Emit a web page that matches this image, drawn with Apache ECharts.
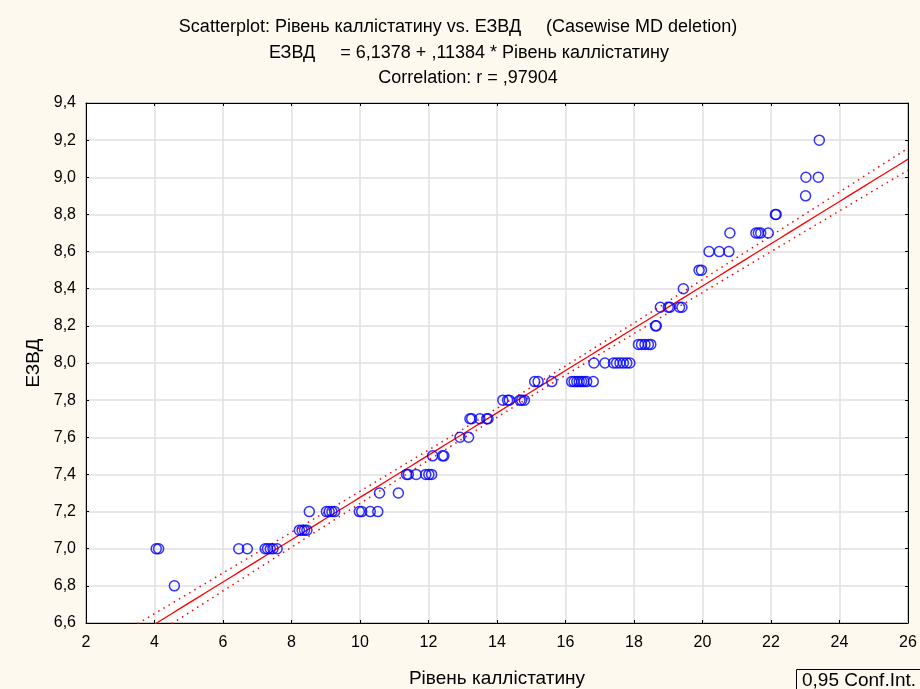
<!DOCTYPE html>
<html><head><meta charset="utf-8">
<script src="https://cdn.jsdelivr.net/npm/echarts@6/dist/echarts.min.js"></script>
<style>html,body{margin:0;padding:0;background:#fdf9ee;overflow:hidden;}#c{width:920px;height:689px;}</style>
</head><body><div id="c"></div>
<script>
// Data: x = Рівень каллістатину, y = ЕЗВД
const xValues = [
  4.58,
  4.05, 4.12, 6.46, 6.71, 7.23, 7.30, 7.38, 7.46, 7.58,
  8.23, 8.31, 8.38, 8.45,
  8.52, 9.02, 9.10, 9.18, 9.26, 9.98, 10.05, 10.30, 10.52,
  10.57, 11.12,
  11.36, 11.41, 11.64, 11.92, 12.01, 12.09,
  12.12, 12.41, 12.45,
  12.92, 13.17,
  13.21, 13.26, 13.50, 13.70, 13.74,
  14.17, 14.31, 14.36, 14.67, 14.72, 14.80,
  15.10, 15.20, 15.60, 16.18, 16.25, 16.33, 16.40, 16.47, 16.54, 16.62, 16.81,
  16.83, 17.15, 17.40, 17.49, 17.59, 17.69, 17.79, 17.88,
  18.13, 18.22, 18.32, 18.42, 18.49,
  18.63, 18.65,
  18.77, 19.00, 19.05, 19.33, 19.40,
  19.44,
  19.90, 19.97,
  20.19, 20.49, 20.77,
  20.80, 21.56, 21.63, 21.70, 21.92,
  22.13, 22.15,
  23.01,
  23.02, 23.38,
  23.41
];
const yValues = [
  6.8,
  7.0, 7.0, 7.0, 7.0, 7.0, 7.0, 7.0, 7.0, 7.0,
  7.1, 7.1, 7.1, 7.1,
  7.2, 7.2, 7.2, 7.2, 7.2, 7.2, 7.2, 7.2, 7.2,
  7.3, 7.3,
  7.4, 7.4, 7.4, 7.4, 7.4, 7.4,
  7.5, 7.5, 7.5,
  7.6, 7.6,
  7.7, 7.7, 7.7, 7.7, 7.7,
  7.8, 7.8, 7.8, 7.8, 7.8, 7.8,
  7.9, 7.9, 7.9, 7.9, 7.9, 7.9, 7.9, 7.9, 7.9, 7.9, 7.9,
  8.0, 8.0, 8.0, 8.0, 8.0, 8.0, 8.0, 8.0,
  8.1, 8.1, 8.1, 8.1, 8.1,
  8.2, 8.2,
  8.3, 8.3, 8.3, 8.3, 8.3,
  8.4,
  8.5, 8.5,
  8.6, 8.6, 8.6,
  8.7, 8.7, 8.7, 8.7, 8.7,
  8.8, 8.8,
  8.9,
  9.0, 9.0,
  9.2
];
// Regression from the chart title
const intercept = 6.1378;
const slope = 0.11384;
const confLevelT = 1.985;
const xTicks = [2,4,6,8,10,12,14,16,18,20,22,24,26];
const yTicks = [6.6,6.8,7.0,7.2,7.4,7.6,7.8,8.0,8.2,8.4,8.6,8.8,9.0,9.2,9.4];

const titleLines = [
  'Scatterplot: Рівень каллістатину vs. ЕЗВД     (Casewise MD deletion)',
  'ЕЗВД     = 6,1378 + ,11384 * Рівень каллістатину',
  'Correlation: r = ,97904'
];

// derived statistics for the 95% confidence band
const n = xValues.length;
const xMean = xValues.reduce((a,b)=>a+b,0)/n;
const sxx = xValues.reduce((a,b)=>a+(b-xMean)*(b-xMean),0);
const sse = xValues.reduce((a,x,i)=>{const r=yValues[i]-(intercept+slope*x);return a+r*r;},0);
const sRes = Math.sqrt(sse/(n-2));
const fitLine = [], upper = [], lower = [];
for (let k = 0; k <= 96; k++) {
  const x = 2 + k*0.25;
  const yh = intercept + slope*x;
  const hw = confLevelT*sRes*Math.sqrt(1/n + (x-xMean)*(x-xMean)/sxx);
  fitLine.push([x, yh]); upper.push([x, yh+hw]); lower.push([x, yh-hw]);
}
const pts = xValues.map((x,i)=>[x,yValues[i]]);

const chart = echarts.init(document.getElementById('c'), null, {renderer:'canvas'});
const fontF = '"Liberation Sans", Arial, sans-serif';
const tFont = '18px "Liberation Sans", Arial, sans-serif';
const txt = (x, y, text, font, align) => ({type: 'text', x: x, y: y,
  style: {text: text, font: font, fill: '#000', textAlign: align, align: align, verticalAlign: 'middle', textVerticalAlign: 'middle'}});
chart.setOption({
  backgroundColor: '#fdf9ee',
  animation: false,
  grid: {left: 86, right: 12, top: 103, bottom: 66, containLabel: false, outerBoundsMode: 'none',
         backgroundColor: '#ffffff', show: true, borderColor: '#000', borderWidth: 1},
  xAxis: [{
    type: 'value', min: 2, max: 26, interval: 2,
    axisLine: {show: true, onZero: false, lineStyle: {color: '#000'}},
    axisTick: {show: true, inside: true, length: 3, lineStyle: {color: '#000'}},
    splitLine: {show: true, lineStyle: {color: '#e0e0e0', width: 1.5}},
    axisLabel: {color: '#000', fontSize: 16, fontFamily: fontF, margin: 12, formatter: v => String(v)},
    name: 'Рівень каллістатину', nameLocation: 'middle', nameGap: 46,
    nameTextStyle: {color: '#000', fontSize: 19, fontFamily: fontF}
  },{
    type: 'value', min: 2, max: 26, interval: 2, position: 'top',
    axisLine: {show: true, lineStyle: {color: '#000'}},
    axisTick: {show: true, inside: true, length: 3, lineStyle: {color: '#000'}},
    axisLabel: {show: false}, splitLine: {show: false}
  }],
  yAxis: [{
    type: 'value', min: 6.6, max: 9.4, interval: 0.2,
    axisLine: {show: true, onZero: false, lineStyle: {color: '#000'}},
    axisTick: {show: true, inside: true, length: 3, lineStyle: {color: '#000'}},
    splitLine: {show: true, lineStyle: {color: '#e0e0e0', width: 1.5}},
    axisLabel: {color: '#000', fontSize: 16, fontFamily: fontF, margin: 10, formatter: v => v.toFixed(1).replace('.', ',')},
    name: 'ЕЗВД', nameLocation: 'middle', nameGap: 40, nameRotate: 90,
    nameTextStyle: {color: '#000', fontSize: 19, fontFamily: fontF}
  },{
    type: 'value', min: 6.6, max: 9.4, interval: 0.2, position: 'right',
    axisLine: {show: true, lineStyle: {color: '#000'}},
    axisTick: {show: true, inside: true, length: 3, lineStyle: {color: '#000'}},
    axisLabel: {show: false}, splitLine: {show: false}
  }],
  graphic: [
    txt(458, 27, titleLines[0], tFont, 'center'),
    txt(469, 53, titleLines[1], tFont, 'center'),
    txt(468, 78, titleLines[2], tFont, 'center'),
    {type: 'rect', shape: {x: 796.5, y: 669.5, width: 140, height: 30}, style: {fill: '#fdf9ee', stroke: '#000', lineWidth: 1}},
    txt(802, 681, '0,95 Conf.Int.', '19px "Liberation Sans", Arial, sans-serif', 'left')
  ],
  series: [
    {type: 'line', data: upper, showSymbol: false, symbol: 'none', clip: true, silent: true,
     lineStyle: {color: '#ff0000', width: 1.5, type: [1.5, 4.5]}, z: 2},
    {type: 'line', data: lower, showSymbol: false, symbol: 'none', clip: true, silent: true,
     lineStyle: {color: '#ff0000', width: 1.5, type: [1.5, 4.5]}, z: 2},
    {type: 'line', data: fitLine, showSymbol: false, symbol: 'none', clip: true, silent: true,
     lineStyle: {color: '#ff0000', width: 1.3}, z: 3},
    {type: 'scatter', data: pts, symbol: 'circle', symbolSize: 10, clip: false,
     itemStyle: {color: 'rgba(0,0,0,0)', borderColor: '#0000ff', borderWidth: 1.5}, z: 4}
  ]
});
</script></body></html>
